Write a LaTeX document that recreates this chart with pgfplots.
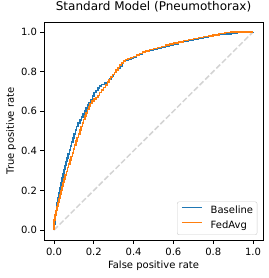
\documentclass[border=0pt]{standalone}
\usepackage{pgfplots}
\pgfplotsset{compat=1.18}
\usepackage{fontspec}
\setmainfont{DejaVu Sans}
\definecolor{tabblue}{HTML}{1F77B4}
\definecolor{taborange}{HTML}{FF7F0E}
\definecolor{diag}{HTML}{D3D3D3}
\begin{document}
\begin{tikzpicture}
\begin{axis}[
  scale only axis,
  width=219pt, height=218pt,
  xmin=-0.05, xmax=1.05, ymin=-0.05, ymax=1.05,
  xtick={0,0.2,0.4,0.6,0.8,1.0},
  ytick={0,0.2,0.4,0.6,0.8,1.0},
  xticklabel style={yshift=-1.5pt, /pgf/number format/.cd,fixed,fixed zerofill,precision=1},
  yticklabel style={/pgf/number format/.cd,fixed,fixed zerofill,precision=1},
  /pgf/number format/assume math mode=true,
  tick align=outside, xtick pos=bottom, ytick pos=left,
  major tick length=3.5pt,
  tick style={black, line width=0.8pt},
  axis line style={line width=0.8pt},
  ticklabel style={font=\fontsize{10}{12}\selectfont},
  title={Standard Model (Pneumothorax)},
  title style={font=\fontsize{12}{14}\selectfont, at={(axis description cs:0.5,1.023)}, anchor=base},
  xlabel={False positive rate},
  ylabel={True positive rate},
  label style={font=\fontsize{10}{12}\selectfont},
  xlabel style={at={(axis description cs:0.5,-0.133)}, anchor=base},
  ylabel style={at={(axis description cs:-0.137,0.5)}, anchor=base},
  legend style={font=\fontsize{10}{12}\selectfont, draw=black!20, rounded corners=2pt,
    fill=white,
    at={(0.974,0.023)}, anchor=south east,
    inner xsep=4pt, inner ysep=4pt, row sep=5pt, column sep=8pt,
    nodes={inner sep=0pt, text height=7.5pt, text depth=2.5pt}},
  legend cell align=left,
  legend image code/.code={\draw[#1, line width=1.5pt, sharp plot] (0pt,3.5pt) -- (20pt,3.5pt);},
]
\addplot[diag, line width=1.5pt, dash pattern=on 5.5pt off 2.4pt, forget plot] coordinates {(0,0) (1,1)};
\addplot[tabblue, line width=1.5pt, const plot] coordinates {
(0,0) (0,0.03) (0.004,0.06) (0.008,0.09) (0.012,0.115) (0.016,0.14) (0.021,0.165)
(0.026,0.19) (0.031,0.215) (0.036,0.24) (0.041,0.262) (0.046,0.285) (0.051,0.305)
(0.056,0.325) (0.061,0.345) (0.066,0.365) (0.071,0.385) (0.077,0.405) (0.083,0.425)
(0.089,0.445) (0.095,0.465) (0.101,0.485) (0.107,0.505) (0.114,0.522) (0.122,0.54)
(0.13,0.555) (0.138,0.57) (0.146,0.585) (0.153,0.60) (0.161,0.615) (0.169,0.63)
(0.177,0.645) (0.185,0.66) (0.193,0.677) (0.201,0.693) (0.21,0.705) (0.22,0.717)
(0.23,0.727) (0.24,0.735) (0.255,0.742) (0.27,0.75) (0.278,0.762) (0.287,0.775)
(0.296,0.786) (0.305,0.795) (0.314,0.805) (0.323,0.816) (0.332,0.828) (0.341,0.84)
(0.35,0.85) (0.36,0.857) (0.372,0.862) (0.386,0.867) (0.40,0.873) (0.415,0.88)
(0.43,0.888) (0.445,0.895) (0.46,0.90) (0.48,0.906) (0.50,0.912) (0.52,0.917)
(0.54,0.923) (0.56,0.93) (0.58,0.935) (0.60,0.94) (0.625,0.946) (0.65,0.952)
(0.675,0.957) (0.70,0.962) (0.725,0.967) (0.75,0.972) (0.775,0.977) (0.80,0.981)
(0.83,0.986) (0.86,0.99) (0.89,0.994) (0.92,0.996) (0.96,0.998) (1,1)};
\addlegendentry{Baseline}
\addplot[taborange, line width=1.5pt, const plot] coordinates {
(0,0) (0,0.05) (0.005,0.075) (0.01,0.10) (0.015,0.12) (0.02,0.14) (0.025,0.16)
(0.03,0.18) (0.035,0.20) (0.04,0.22) (0.045,0.24) (0.05,0.258) (0.056,0.277)
(0.062,0.296) (0.068,0.315) (0.074,0.334) (0.08,0.353) (0.086,0.372) (0.092,0.39)
(0.098,0.41) (0.104,0.43) (0.11,0.45) (0.117,0.468) (0.124,0.486) (0.131,0.504)
(0.137,0.522) (0.143,0.54) (0.149,0.558) (0.155,0.575) (0.161,0.592) (0.168,0.608)
(0.175,0.624) (0.182,0.64) (0.19,0.652) (0.20,0.662) (0.21,0.67) (0.22,0.68)
(0.23,0.693) (0.24,0.706) (0.25,0.72) (0.26,0.733) (0.268,0.746) (0.276,0.759)
(0.285,0.772) (0.294,0.784) (0.303,0.796) (0.312,0.808) (0.321,0.82) (0.33,0.832)
(0.34,0.843) (0.35,0.852) (0.36,0.86) (0.372,0.865) (0.386,0.87) (0.40,0.876)
(0.415,0.884) (0.43,0.892) (0.445,0.899) (0.46,0.904) (0.48,0.91) (0.50,0.916)
(0.52,0.921) (0.54,0.927) (0.56,0.933) (0.58,0.938) (0.60,0.943) (0.625,0.949)
(0.65,0.956) (0.675,0.962) (0.70,0.967) (0.725,0.972) (0.75,0.976) (0.775,0.98)
(0.80,0.985) (0.83,0.991) (0.86,0.996) (0.89,0.999) (0.93,1) (1,1)};
\addlegendentry{FedAvg}
\end{axis}
\pgfresetboundingbox
\useasboundingbox (-44pt,-38pt) rectangle (224pt,240pt);
\end{tikzpicture}
\end{document}
